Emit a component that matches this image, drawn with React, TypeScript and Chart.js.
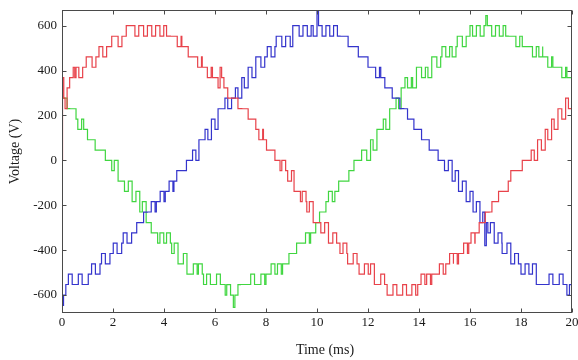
import React, { useEffect, useRef } from "react";
import { Chart, registerables } from "chart.js";

Chart.register(...registerables);

// ---------- axis data ----------
const xTicks = [0, 2, 4, 6, 8, 10, 12, 14, 16, 18, 20];
const yTicks = [-600, -400, -200, 0, 200, 400, 600];
const X_MIN = 0;
const X_MAX = 20;
const Y_MIN = -680;
const Y_MAX = 670;

// level spacing of the staircase (V) and PWM pulse widths (ms)
const STEP = 46;
const PULSE_W = 0.15;
const SPIKE_W = 0.06;

// ---------- phase A (red): staircase transitions [time ms, level V] ----------
const redSteps: [number, number][] = [
  [0, 0], [0.02, 369], [0.07, 277], [0.2, 323], [0.3, 369], [0.55, 415], [0.95, 461],
  [1.45, 507], [1.95, 553], [2.52, 600], [4.25, 553], [4.7, 507], [5.1, 461], [5.5, 415],
  [5.9, 369], [6.35, 323], [6.6, 277], [7.05, 230], [7.35, 184], [7.6, 138], [7.9, 92],
  [8.15, 46], [8.35, 0], [8.55, -46], [8.85, -92], [9.1, -138], [9.35, -184], [9.6, -230],
  [9.85, -277], [10.15, -323], [10.45, -369], [10.9, -415], [11.2, -461], [11.65, -507],
  [12.25, -553], [12.75, -600], [13.95, -553], [14.5, -507], [15.05, -461], [15.55, -415],
  [15.95, -369], [16.2, -323], [16.5, -277], [16.75, -230], [17.0, -184], [17.25, -138],
  [17.5, -92], [17.75, -46], [18.05, 0], [18.4, 46], [18.65, 92], [18.95, 138], [19.2, 184],
  [19.45, 230], [19.75, 277], [20, 277],
];
// times of the narrow PWM notches (towards zero)
const redPulses = [
  0.12, 0.66, 1.18, 1.6, 2.2, 2.86, 3.2, 3.52, 3.84, 4.1, 4.52, 4.95, 5.32, 5.7, 6.12,
  6.5, 6.9, 7.3, 7.72, 8.02, 8.62, 9.0, 9.42, 9.7, 10.3, 10.62, 11.02, 11.42, 11.86,
  12.1, 12.5, 12.98, 13.36, 13.72, 14.08, 14.3, 14.8, 15.2, 15.35, 15.75, 16.04, 16.36,
  16.6, 16.86, 17.12, 17.6, 18.22, 18.52, 18.8, 19.05, 19.3, 19.6, 19.86,
];
// larger outward spikes [time ms, peak V]
const redSpikes: [number, number][] = [[0.44, 415], [6.2, 415]];

// ---------- phase B (blue) ----------
const blueSteps: [number, number][] = [
  [0, 0], [0.01, -646], [0.06, -600], [0.15, -553], [1.03, -507], [1.49, -461], [1.88, -415],
  [2.34, -369], [2.73, -323], [3.05, -277], [3.35, -230], [3.7, -184], [4.05, -138],
  [4.39, -92], [4.63, -46], [4.88, 0], [5.12, 46], [5.37, 92], [5.61, 138], [5.86, 184],
  [6.12, 230], [6.39, 277], [6.8, 323], [7.05, 369], [7.3, 415], [7.6, 461], [8.05, 507],
  [8.4, 553], [9.05, 600], [10.9, 553], [11.35, 507], [11.75, 461], [12.15, 415], [12.5, 369],
  [12.8, 323], [13.1, 277], [13.4, 230], [13.7, 184], [13.95, 138], [14.25, 92], [14.5, 46],
  [14.75, 0], [15.0, -46], [15.3, -92], [15.55, -138], [15.85, -184], [16.12, -230],
  [16.39, -277], [16.7, -323], [16.95, -369], [17.26, -415], [17.6, -461], [18.0, -507],
  [18.6, -553], [19.8, -600], [20, -600],
];
const bluePulses = [
  0.25, 0.64, 1.16, 1.55, 2.01, 2.4, 2.93, 3.2, 3.5, 3.85, 4.2, 4.5, 5.0, 5.25, 5.72, 6.0,
  6.5, 6.9, 7.15, 7.45, 7.8, 8.2, 8.62, 8.95, 9.3, 9.62, 9.85, 10.2, 10.5, 10.8, 11.22,
  11.62, 12.0, 12.3, 12.66, 12.95, 13.25, 13.55, 13.8, 14.1, 14.4, 15.15, 15.42, 15.7,
  16.0, 16.25, 16.5, 16.8, 17.1, 17.45, 17.75, 18.16, 18.45, 19.1, 19.5, 19.9,
];
const blueSpikes: [number, number][] = [[10.0, 668], [16.58, -380]];

// ---------- phase C (green) ----------
const greenSteps: [number, number][] = [
  [0, 0], [0.01, 277], [0.3, 230], [0.55, 184], [0.85, 138], [1.15, 92], [1.45, 46],
  [1.7, 0], [1.95, -46], [2.2, -92], [2.45, -138], [2.75, -184], [3.05, -230], [3.3, -277],
  [3.5, -323], [3.75, -369], [4.3, -415], [4.55, -461], [4.9, -507], [5.55, -553],
  [6.4, -600], [7.0, -553], [8.0, -507], [8.65, -461], [9.05, -415], [9.35, -369],
  [9.75, -323], [9.95, -277], [10.1, -230], [10.35, -184], [10.7, -138], [11.0, -92],
  [11.25, -46], [11.45, 0], [11.75, 46], [12.1, 92], [12.35, 138], [12.6, 184], [12.85, 230],
  [13.1, 277], [13.3, 323], [13.45, 369], [13.9, 415], [14.5, 461], [14.9, 507], [15.5, 553],
  [16.0, 600], [17.5, 553], [18.2, 507], [18.85, 461], [19.4, 415], [19.8, 369], [20, 369],
];
const greenPulses = [
  0.2, 0.62, 1.0, 1.3, 2.05, 2.6, 2.9, 3.15, 3.84, 4.1, 4.4, 4.76, 5.15, 5.35, 5.67, 6.06,
  6.46, 6.9, 7.4, 7.8, 8.2, 8.45, 8.9, 9.2, 9.55, 10.45, 10.85, 11.95, 12.2, 12.7, 13.2,
  13.55, 13.75, 14.1, 14.35, 14.7, 15.05, 15.3, 15.7, 16.1, 16.4, 16.85, 17.15, 17.4,
  17.8, 18.05, 18.45, 18.7, 19.05, 19.25, 19.6,
];
const greenSpikes: [number, number][] = [[6.72, -655], [16.62, 645]];

// ---------- styles ----------
const RED = "#e8424a";
const BLUE = "#3434cc";
const GREEN = "#40d640";
const FRAME = "#4a4a4a";
const TEXT = "#1a1a1a";
const FONT_FAMILY = '"Liberation Serif", "Times New Roman", serif';
const TICK_LEN = 4;

type Pt = { x: number; y: number };

function levelAt(steps: [number, number][], t: number): number {
  let v = steps[0][1];
  for (const [st, sv] of steps) {
    if (st <= t) v = sv;
    else break;
  }
  return v;
}

// merge the read transitions, notches and spikes into one time-ordered point list
function buildSeries(
  steps: [number, number][],
  pulses: number[],
  spikes: [number, number][]
): Pt[] {
  const ev: { t: number; v: number }[] = steps.map(([t, v]) => ({ t, v }));
  for (const p of pulses) {
    const base = levelAt(steps, p);
    if (base === 0) continue;
    ev.push({ t: p, v: base - Math.sign(base) * STEP });
    ev.push({ t: p + PULSE_W, v: levelAt(steps, p + PULSE_W) });
  }
  for (const [t, v] of spikes) {
    ev.push({ t, v });
    ev.push({ t: t + SPIKE_W, v: levelAt(steps, t + SPIKE_W) });
  }
  ev.sort((a, b) => a.t - b.t);
  return ev.map((e) => ({ x: e.t, y: e.v }));
}

const framePlugin = {
  id: "frameAndTitles",
  afterDraw(chart: any) {
    const { ctx, chartArea: a, scales } = chart;
    ctx.save();
    ctx.strokeStyle = FRAME;
    ctx.lineWidth = 1;
    const L = Math.round(a.left) + 0.5;
    const R = Math.round(a.right) - 0.5;
    const T = Math.round(a.top) + 0.5;
    const B = Math.round(a.bottom) - 0.5;
    ctx.strokeRect(L, T, R - L, B - T);
    ctx.beginPath();
    for (const v of xTicks) {
      const x = Math.round(scales.x.getPixelForValue(v)) + 0.5;
      ctx.moveTo(x, B);
      ctx.lineTo(x, B - TICK_LEN);
      ctx.moveTo(x, T);
      ctx.lineTo(x, T + TICK_LEN);
    }
    for (const v of yTicks) {
      const y = Math.round(scales.y.getPixelForValue(v)) + 0.5;
      ctx.moveTo(L, y);
      ctx.lineTo(L + TICK_LEN, y);
      ctx.moveTo(R, y);
      ctx.lineTo(R - TICK_LEN, y);
    }
    ctx.stroke();

    ctx.fillStyle = TEXT;
    ctx.font = `14px ${FONT_FAMILY}`;
    ctx.textAlign = "center";
    ctx.textBaseline = "middle";
    ctx.fillText("Time (ms)", (a.left + a.right) / 2 + 8, a.bottom + 37);
    ctx.save();
    ctx.translate(15, (a.top + a.bottom) / 2 - 10);
    ctx.rotate(-Math.PI / 2);
    ctx.fillText("Voltage (V)", 0, 0);
    ctx.restore();
    ctx.restore();
  },
};

export default function App() {
  const ref = useRef<HTMLCanvasElement | null>(null);

  useEffect(() => {
    if (!ref.current) return;
    const tickFont = { family: FONT_FAMILY, size: 13 };
    const line = (label: string, data: Pt[], color: string) => ({
      label,
      data,
      borderColor: color,
      backgroundColor: color,
      borderWidth: 1.2,
      stepped: true as const,
      pointRadius: 0,
      fill: false,
    });
    const chart = new Chart(ref.current, {
      type: "line",
      data: {
        datasets: [
          line("Phase A", buildSeries(redSteps, redPulses, redSpikes), RED),
          line("Phase B", buildSeries(blueSteps, bluePulses, blueSpikes), BLUE),
          line("Phase C", buildSeries(greenSteps, greenPulses, greenSpikes), GREEN),
        ],
      },
      options: {
        animation: false,
        responsive: false,
        devicePixelRatio: 1,
        events: [],
        layout: { padding: { top: 10, right: 6, left: 0, bottom: 0 } },
        plugins: { legend: { display: false }, tooltip: { enabled: false } },
        scales: {
          x: {
            type: "linear",
            min: X_MIN,
            max: X_MAX,
            grid: { display: false, drawTicks: false },
            border: { display: false },
            ticks: { font: tickFont, color: TEXT, padding: 2, maxRotation: 0, autoSkip: false },
            afterBuildTicks: (s: any) => {
              s.ticks = xTicks.map((v) => ({ value: v }));
            },
            afterFit: (s: any) => {
              s.height = 47;
              s.paddingLeft = 0;
              s.paddingRight = 0;
            },
          },
          y: {
            type: "linear",
            min: Y_MIN,
            max: Y_MAX,
            grid: { display: false, drawTicks: false },
            border: { display: false },
            ticks: { font: tickFont, color: TEXT, padding: 5, autoSkip: false },
            afterBuildTicks: (s: any) => {
              s.ticks = yTicks.map((v) => ({ value: v }));
            },
            afterFit: (s: any) => {
              s.width = 62;
              s.paddingTop = 0;
              s.paddingBottom = 0;
            },
          },
        },
      },
      plugins: [framePlugin],
    });
    return () => chart.destroy();
  }, []);

  return (
    <div
      style={{
        position: "fixed",
        left: 0,
        top: 0,
        width: 578,
        height: 360,
        background: "#ffffff",
      }}
    >
      <canvas ref={ref} width={578} height={360} style={{ width: 578, height: 360 }} />
    </div>
  );
}
